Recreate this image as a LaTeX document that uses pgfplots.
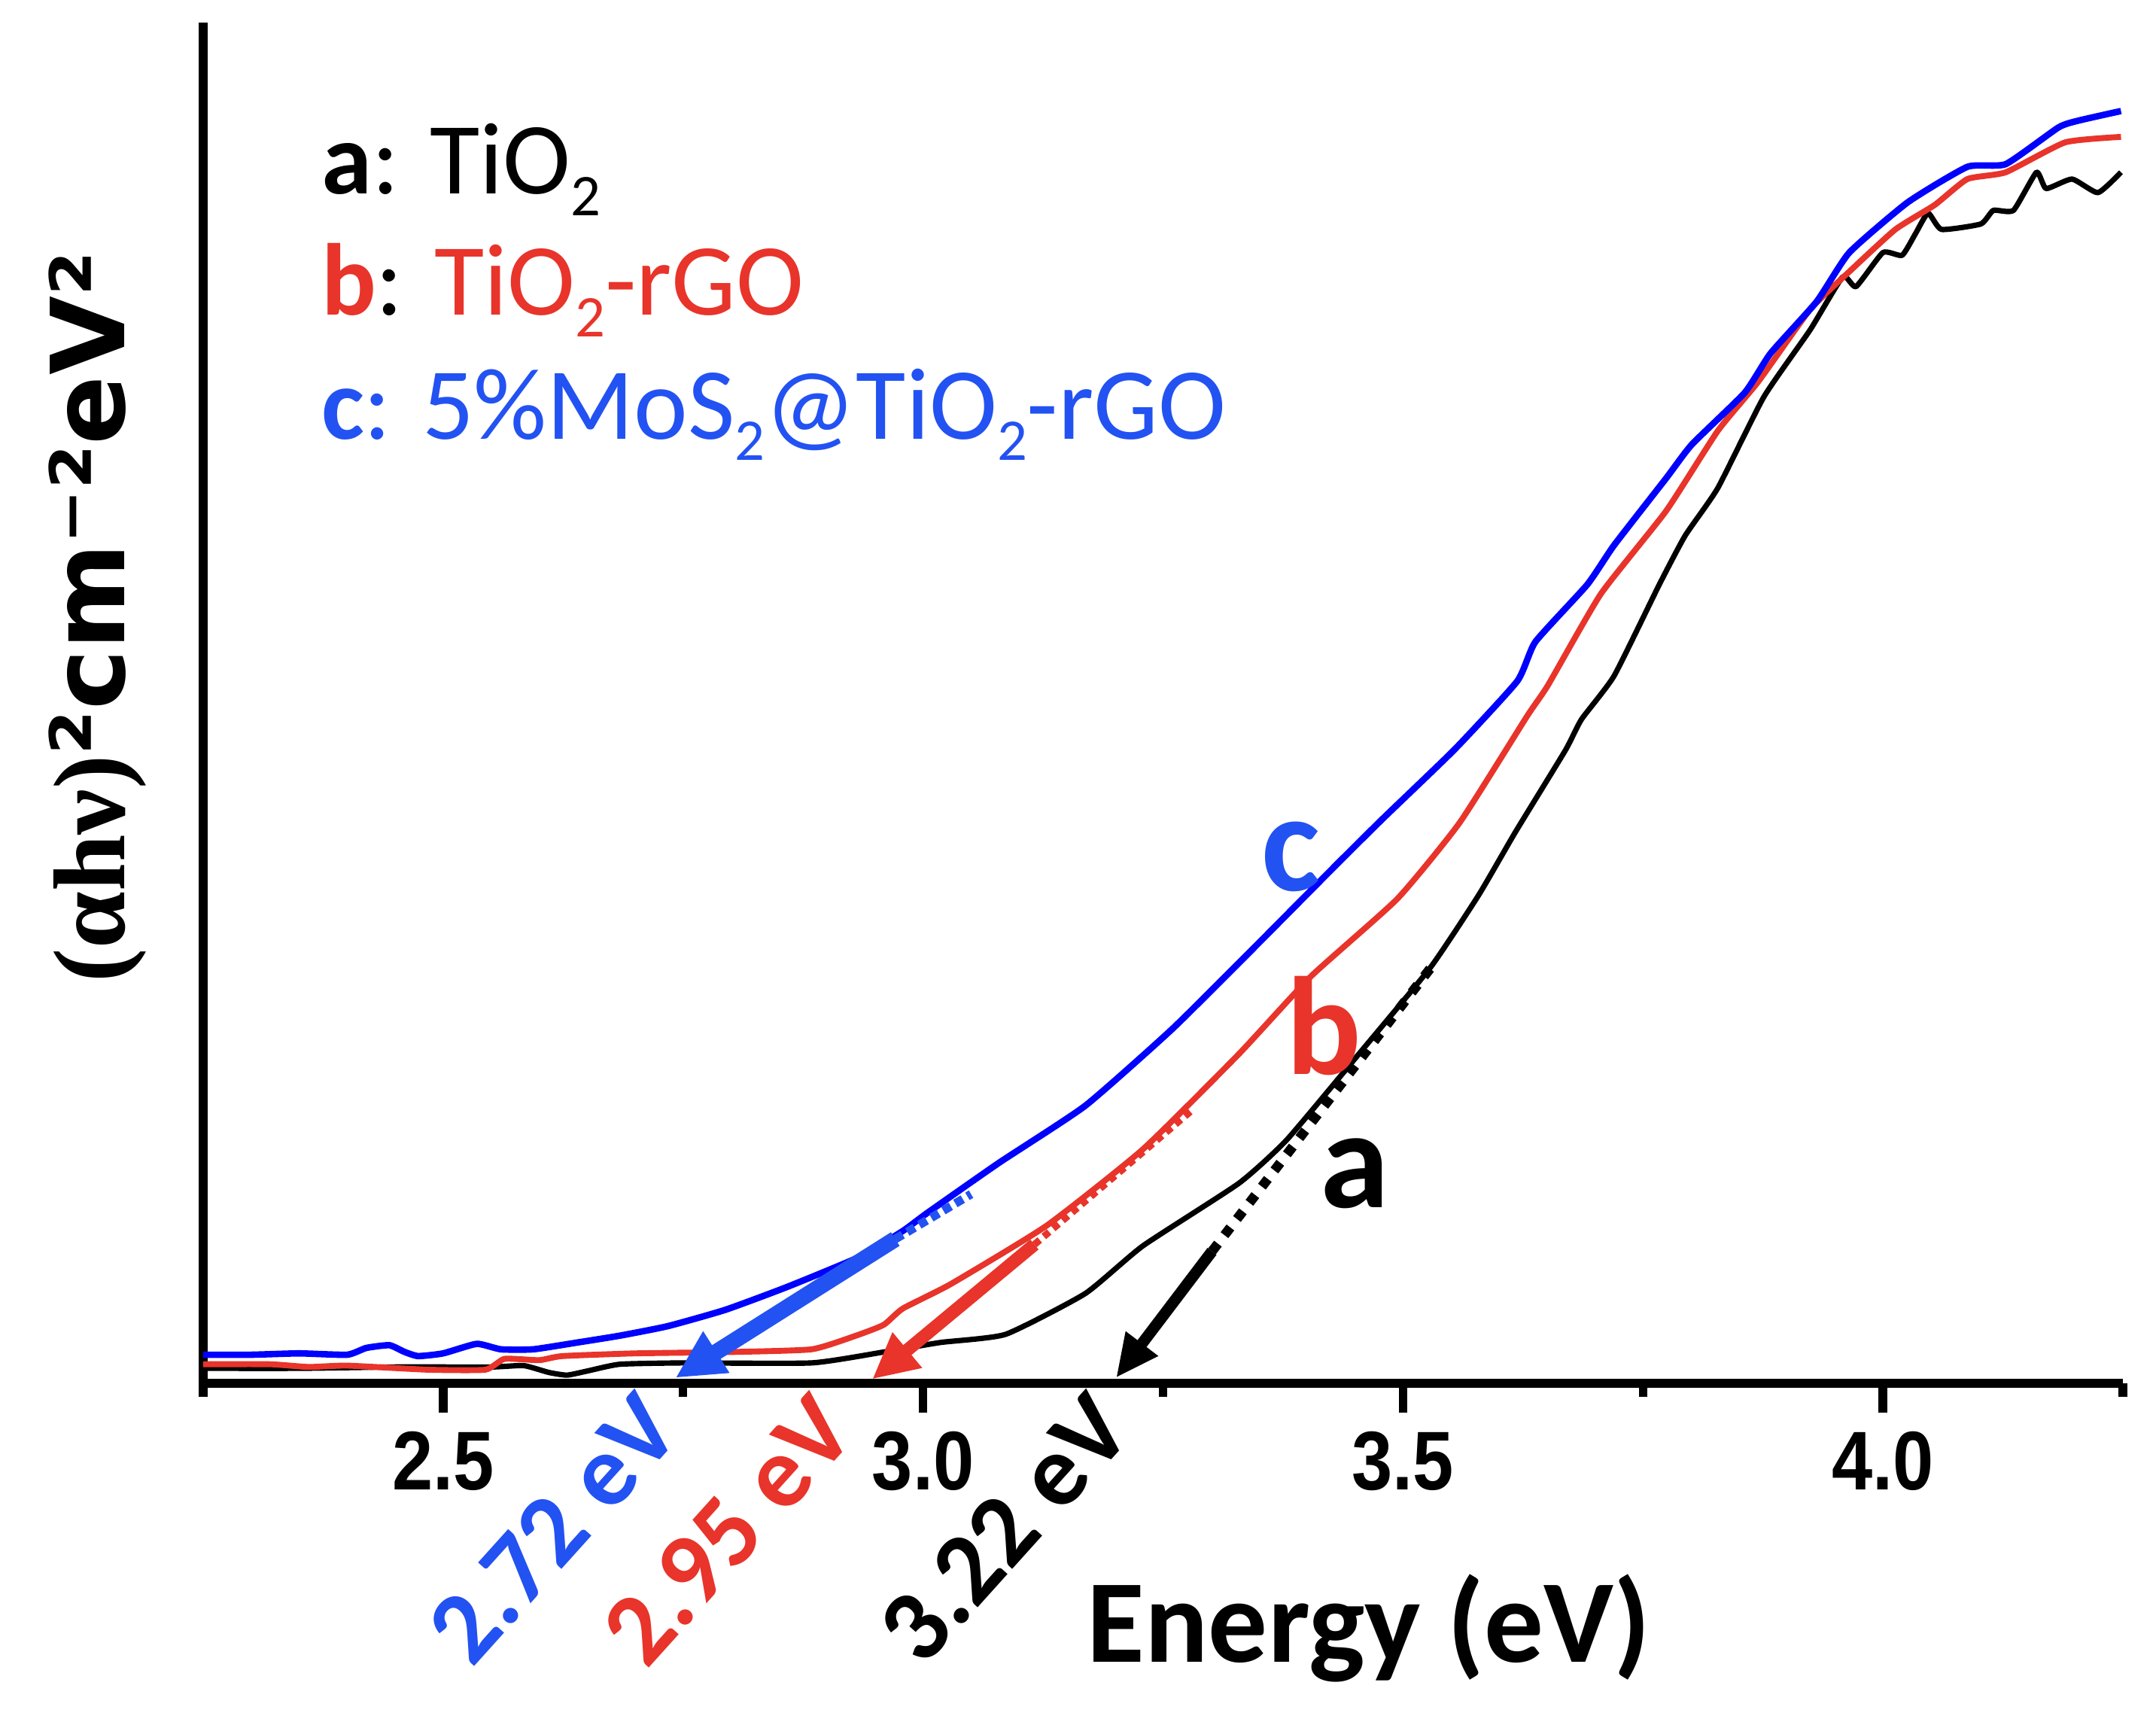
\documentclass[border=0pt]{standalone}
\usepackage{pgfplots}
\pgfplotsset{compat=1.18}
\usepackage{fontspec}
\usetikzlibrary{arrows.meta}
\setmainfont{Carlito}
\newfontfamily\tickfont[FakeStretch=0.88]{Liberation Sans}
\newfontfamily\ylabsans{DejaVu Sans}
\newfontfamily\ylabserif{Liberation Serif}
\definecolor{cblue}{HTML}{0000FF}
\definecolor{tblue}{HTML}{2352F2}
\definecolor{cred}{HTML}{E8342A}
\newcommand\sub[1]{\raisebox{-4pt}{\fontsize{11}{11}\selectfont #1}}
\begin{document}
\begin{tikzpicture}
\useasboundingbox (0,0) rectangle (401.1pt,321.86pt);
\begin{axis}[
  at={(37.8pt,64.54pt)}, anchor=south west,
  scale only axis, width=357.14pt, height=253.12pt,
  xmin=2.25, xmax=4.25, ymin=0, ymax=100,
  axis lines*=left,
  axis line style={line width=1.7pt},
  clip=false,
  xtick={2.5,3.0,3.5,4.0},
  xticklabels={2.5,3.0,3.5,4.0},
  minor xtick={2.25,2.75,3.25,3.75,4.25},
  ytick=\empty,
  xtick align=outside,
  major tick length=5.5pt, minor tick length=2.5pt,
  every tick/.style={line width=1.6pt, black},
  xticklabel style={font=\tickfont\bfseries\fontsize{15.5}{18}\selectfont},
  line join=round,
]
% curve a (TiO2)
\addplot[black, line width=1.0pt, mark=none, smooth, tension=0.3] coordinates {
(2.25,1.1) (2.35,1.1) (2.45,1.2) (2.55,1.2) (2.584,1.3) (2.61,0.8) (2.629,0.6)
(2.65,0.9) (2.684,1.4) (2.75,1.5) (2.884,1.5) (2.959,2.3) (3.018,3.0) (3.086,3.6)
(3.169,6.6) (3.229,10.1) (3.329,14.7) (3.379,17.9) (3.454,24.2) (3.529,30.6)
(3.579,35.9) (3.617,40.5) (3.669,46.5) (3.686,48.8) (3.720,52.0) (3.767,58.7)
(3.794,62.3) (3.828,65.8) (3.876,72.5) (3.924,77.4) (3.958,81.3) (3.972,80.6)
(4.000,83.1) (4.020,82.9) (4.034,84.5) (4.047,86.0) (4.061,84.8) (4.102,85.2)
(4.115,86.2) (4.136,86.2) (4.160,89.0) (4.170,87.8) (4.197,88.5) (4.224,87.5) (4.248,89.0)};
% curve b (TiO2-rGO)
\addplot[cred, line width=1.1pt, mark=none, smooth, tension=0.3] coordinates {
(2.25,1.4) (2.32,1.4) (2.36,1.2) (2.40,1.3) (2.484,1.0) (2.544,1.0) (2.564,1.8)
(2.60,1.7) (2.624,2.0) (2.70,2.2) (2.80,2.3) (2.884,2.5) (2.93,3.5) (2.959,4.3)
(2.979,5.5) (3.029,7.3) (3.129,11.6) (3.229,17.2) (3.329,24.2) (3.404,29.9)
(3.494,35.6) (3.559,41.2) (3.629,49.0) (3.651,51.3) (3.706,58.0) (3.774,64.1)
(3.828,70.0) (3.870,73.6) (3.924,78.9) (3.965,81.7) (4.013,84.8) (4.054,86.6)
(4.088,88.5) (4.128,89.0) (4.19,91.2) (4.248,91.6)};
% curve c (5% MoS2@TiO2-rGO)
\addplot[cblue, line width=1.2pt, mark=none, smooth, tension=0.3] coordinates {
(2.25,2.1) (2.30,2.1) (2.35,2.2) (2.40,2.1) (2.42,2.6) (2.444,2.8) (2.46,2.3)
(2.474,2.0) (2.50,2.2) (2.535,2.9) (2.56,2.5) (2.594,2.5) (2.64,3.0) (2.684,3.5)
(2.734,4.2) (2.794,5.4) (2.859,7.1) (2.934,9.3) (2.979,11.2) (3.004,12.5)
(3.079,16.2) (3.169,20.4) (3.259,26.0) (3.339,31.6) (3.429,38.0) (3.479,41.5)
(3.554,46.6) (3.619,51.6) (3.638,54.5) (3.692,58.7) (3.720,61.6) (3.774,66.5)
(3.801,69.0) (3.856,72.8) (3.883,75.7) (3.931,79.5) (3.965,83.1) (4.026,86.8)
(4.088,89.4) (4.128,89.6) (4.183,92.3) (4.204,92.8) (4.248,93.5)};
% tangent lines
\addplot[black, dotted, line width=1.8pt, mark=none] coordinates {(3.301,9.7) (3.534,31.0)};
\addplot[cred, densely dotted, line width=1.3pt, mark=none] coordinates {(3.116,10.2) (3.279,20.0)};
\addplot[tblue, densely dotted, line width=1.6pt, mark=none] coordinates {(2.971,10.6) (3.05,13.9)};
% arrows
\addplot[tblue, line width=3pt, mark=none, -{Triangle[length=9pt,width=8.5pt]}] coordinates {(2.971,10.6) (2.742,0.4)};
\addplot[cred, line width=2.4pt, mark=none, -{Triangle[length=8.5pt,width=8pt]}] coordinates {(3.116,10.2) (2.947,0.3)};
\addplot[black, line width=2.1pt, mark=none, -{Triangle[length=8pt,width=7pt]}] coordinates {(3.301,9.7) (3.201,0.4)};
% legend texts
\node[anchor=base west, inner sep=0, font=\fontsize{19}{22}\selectfont] at (axis cs:2.372,87.4) {\textbf{a}: TiO\sub{2}};
\node[anchor=base west, inner sep=0, font=\fontsize{19}{22}\selectfont] at (axis cs:2.372,78.5) {\textcolor{cred}{\textbf{b}}: \textcolor{cred}{TiO\sub{2}-rGO}};
\node[anchor=base west, inner sep=0, font=\fontsize{19}{22}\selectfont, text=tblue] at (axis cs:2.372,69.4) {\textbf{c}: 5\%MoS\sub{2}@TiO\sub{2}-rGO};
% curve labels
\node[anchor=base, inner sep=0, font=\bfseries\fontsize{26}{30}\selectfont, text=tblue] at (axis cs:3.383,36.2) {c};
\node[anchor=base, inner sep=0, font=\bfseries\fontsize{26}{30}\selectfont, text=cred] at (axis cs:3.418,22.7) {b};
\node[anchor=base, inner sep=0, font=\bfseries\fontsize{26}{30}\selectfont, text=black] at (axis cs:3.450,12.9) {a};
% band gap labels
\node[rotate=48, inner sep=0, font=\bfseries\fontsize{19}{22}\selectfont, text=tblue] at (axis cs:2.615,-10.7) {2.72 eV};
\node[rotate=48, inner sep=0, font=\bfseries\fontsize{19}{22}\selectfont, text=cred] at (axis cs:2.797,-10.8) {2.95 eV};
\node[rotate=48, inner sep=0, font=\bfseries\fontsize{19}{22}\selectfont, text=black] at (axis cs:3.085,-10.7) {3.22 eV};
% axis labels
\node[anchor=base west, inner sep=0, font=\bfseries\fontsize{22}{26}\selectfont] at (axis cs:3.170,-20.5) {Energy (eV)};
\node[anchor=base, rotate=90, inner sep=0, font=\bfseries\fontsize{19}{22}\selectfont] at (axis cs:2.1677,56.3) {{\ylabserif\bfseries (αhν)}{\ylabsans\bfseries ²cm⁻²eV²}};
\end{axis}
\end{tikzpicture}
\end{document}
